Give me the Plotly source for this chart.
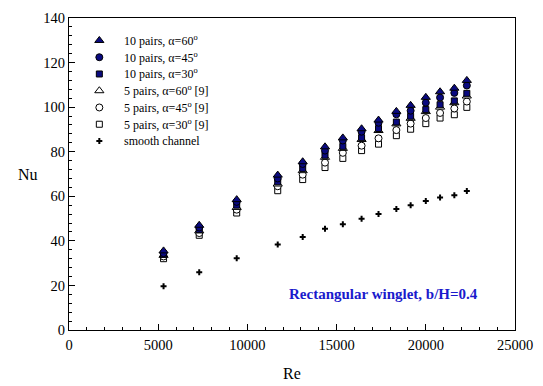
import plotly.graph_objects as go

re_vals = [5300, 7300, 9400, 11700, 13100, 14350, 15350, 16400, 17350, 18350, 19150, 20000, 20800, 21600, 22300]
p10_60 = [35.5, 47, 58.5, 69.5, 75.5, 82.2, 86.2, 90.3, 94.2, 98.1, 100.8, 104.4, 106.9, 108.5, 112]
p10_45 = [34.5, 46, 57.5, 68, 74.5, 80.5, 85, 89, 93, 96.8, 98.4, 102, 104.3, 106.4, 109.7]
p10_30 = [34, 45, 56, 66.5, 72.5, 78.4, 82.4, 86.3, 90.4, 93.3, 95.9, 98.9, 101.1, 102.8, 106.2]
p5_60 = [33.5, 44.5, 55, 65.5, 71.5, 77.5, 81.5, 85.5, 89.5, 92.5, 95, 98, 100, 102, 105]
p5_45 = [33, 43.5, 54, 64.5, 69.7, 75.1, 79.5, 82.7, 86, 89.7, 92.6, 95.1, 97.4, 99.4, 102.5]
p5_30 = [32, 42.5, 52.5, 62.5, 67.5, 72.9, 77, 80.5, 83.4, 87.2, 90.1, 92.6, 95.1, 96.6, 99.9]
smooth = [19.6, 25.9, 32.2, 38.4, 41.7, 45.4, 47.5, 49.9, 52.1, 54.3, 56, 57.9, 59.4, 60.5, 62.4]

names = ["10 pairs, α=60<sup>o</sup>", "10 pairs, α=45<sup>o</sup>", "10 pairs, α=30<sup>o</sup>",
         "5 pairs, α=60<sup>o</sup> [9]", "5 pairs, α=45<sup>o</sup> [9]", "5 pairs, α=30<sup>o</sup> [9]",
         "smooth channel"]

FONT = "Liberation Serif"
NAVY = "#0a0a80"

series = [
    (names[0], p10_60, "triangle-up", NAVY, 8),
    (names[1], p10_45, "circle", NAVY, 7),
    (names[2], p10_30, "square", NAVY, 6),
    (names[3], p5_60, "triangle-up", "white", 8),
    (names[4], p5_45, "circle", "white", 7),
    (names[5], p5_30, "square", "white", 6),
    (names[6], smooth, "cross", "black", 5),
]

# legend layout (fractions of the plot area)
LEG_X_MARK = 0.068
LEG_X_TEXT = 0.119
LEG_Y0 = 0.928
LEG_DY = 0.0537

fig = go.Figure()
for name, ys, sym, col, sz in reversed(series):
    line = dict(width=0) if sym == "cross" else dict(color="black", width=1)
    fig.add_trace(go.Scatter(x=re_vals, y=ys, mode="markers", name=name, showlegend=False,
                             marker=dict(symbol=sym, size=sz, color=col, line=line)))

for i, (name, ys, sym, col, sz) in enumerate(series):
    ly = LEG_Y0 - i * LEG_DY
    line = dict(width=0) if sym == "cross" else dict(color="black", width=1)
    fig.add_trace(go.Scatter(x=[LEG_X_MARK], y=[ly], xaxis="x2", yaxis="y2", mode="markers",
                             showlegend=False, hoverinfo="skip",
                             marker=dict(symbol=sym, size=sz, color=col, line=line)))
    fig.add_annotation(text=name, xref="paper", yref="paper", x=LEG_X_TEXT, y=ly,
                       xanchor="left", yanchor="middle", showarrow=False,
                       font=dict(family=FONT, size=12, color="black"))

axis_common = dict(showline=True, linecolor="black", linewidth=1, mirror=True,
                   ticks="inside", ticklen=6, tickcolor="black", showgrid=False,
                   zeroline=False, tickformat="d",
                   tickfont=dict(family=FONT, size=14.5, color="black"))

fig.update_layout(
    xaxis=dict(range=[0, 25000], dtick=5000, tick0=0, ticklabelstandoff=2,
               minor=dict(dtick=1000, ticks="inside", ticklen=3, tickcolor="black"),
               **axis_common),
    yaxis=dict(range=[0, 140], dtick=20, tick0=0,
               minor=dict(dtick=4, ticks="inside", ticklen=3, tickcolor="black"),
               **axis_common),
    xaxis2=dict(range=[0, 1], overlaying="x", visible=False, fixedrange=True),
    yaxis2=dict(range=[0, 1], overlaying="y", visible=False, fixedrange=True),
)

fig.add_annotation(text="Nu", xref="paper", yref="paper", x=-0.065, y=0.5,
                   xanchor="right", yanchor="middle", showarrow=False,
                   font=dict(family=FONT, size=16, color="black"))
fig.add_annotation(text="Re", xref="paper", yref="paper", x=0.5, y=-0.105,
                   xanchor="center", yanchor="top", showarrow=False,
                   font=dict(family=FONT, size=16, color="black"))
fig.add_annotation(text="<b>Rectangular winglet, b/H=0.4</b>", xref="x", yref="y",
                   x=17650, y=16, xanchor="center", yanchor="middle", showarrow=False,
                   font=dict(family=FONT, size=15, color="#1a1acc"))

fig.update_layout(
    width=543, height=386,
    margin=dict(l=69, r=21, t=10, b=56),
    paper_bgcolor="white", plot_bgcolor="white",
    font=dict(family=FONT, color="black"),
    showlegend=False,
)

fig.write_html("out.html")
